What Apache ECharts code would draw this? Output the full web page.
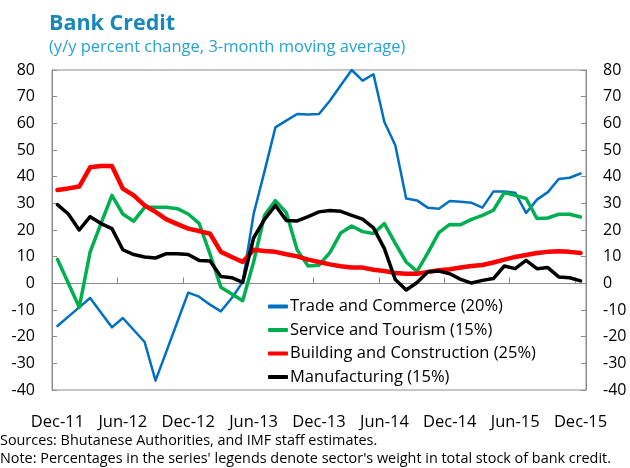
<!DOCTYPE html>
<html>
<head>
<meta charset="utf-8">
<script src="https://cdn.jsdelivr.net/npm/echarts@6/dist/echarts.min.js"></script>
<style>
  html, body { margin: 0; padding: 0; background: #fff; }
  #main { width: 630px; height: 468px; }
</style>
</head>
<body>
<div id="main"></div>
<script>
var months = [
    'Dec-11', 'Jan-12', 'Feb-12', 'Mar-12', 'Apr-12', 'May-12', 'Jun-12', 'Jul-12', 'Aug-12', 'Sep-12', 'Oct-12', 'Nov-12',
    'Dec-12', 'Jan-13', 'Feb-13', 'Mar-13', 'Apr-13', 'May-13', 'Jun-13', 'Jul-13', 'Aug-13', 'Sep-13', 'Oct-13', 'Nov-13',
    'Dec-13', 'Jan-14', 'Feb-14', 'Mar-14', 'Apr-14', 'May-14', 'Jun-14', 'Jul-14', 'Aug-14', 'Sep-14', 'Oct-14', 'Nov-14',
    'Dec-14', 'Jan-15', 'Feb-15', 'Mar-15', 'Apr-15', 'May-15', 'Jun-15', 'Jul-15', 'Aug-15', 'Sep-15', 'Oct-15', 'Nov-15',
    'Dec-15'
];

var trade = [
    -16, -12.5, -9, -5.5, -11, -16.5, -13, -17.5, -22, -36.5, -25.5, -14.5,
    -3.5, -5, -8, -10.5, -5.5, 0.5, 26, 42, 58.5, 61, 63.5, 63.3,
    63.5, 68.5, 74.3, 80, 76, 78.4, 60.5, 51.8, 31.8, 31.1, 28.3, 28,
    30.9, 30.6, 30.2, 28.4, 34.4, 34.4, 34, 26.4, 31.4, 34.2, 39.1, 39.6,
    41.2
];
var service = [
    9, 0, -9, 11.8, 22.5, 33, 26, 23.3, 28.5, 28.5, 28.5, 28,
    26, 22.5, 11, -1.5, -4, -6.5, 8, 25.5, 31, 26.5, 12.5, 6.5,
    6.8, 11.5, 18.9, 21.5, 19.4, 18.7, 22.4, 15, 8, 4.5, 11.5, 19,
    22.1, 22, 24, 25.5, 27.4, 34, 33, 31.8, 24.3, 24.5, 25.9, 25.9,
    24.9
];
var building = [
    35, 35.6, 36.3, 43.5, 44, 44, 35.5, 33, 29.2, 26.8, 24, 22.2,
    20.5, 19.6, 18.6, 11.8, 9.9, 8, 12.6, 12.1, 11.8, 10.9, 10.1, 8.9,
    8, 7.1, 6.4, 5.9, 5.9, 5.1, 4.6, 3.9, 3.6, 3.6, 4.3, 4.9,
    5.3, 5.9, 6.5, 6.9, 7.8, 8.9, 9.9, 10.6, 11.4, 11.8, 12, 11.8,
    11.4
];
var manufacturing = [
    29.5, 26, 20, 25, 22.4, 20.5, 12.6, 10.8, 9.9, 9.5, 11.1, 11.1,
    10.8, 8.6, 8.4, 2.6, 2.1, 0.4, 17, 24, 29.2, 23.6, 23.4, 25,
    26.8, 27.3, 27, 25.5, 24.1, 20.8, 13, 1.4, -2.5, 0.3, 4.3, 4.6,
    3.6, 1.5, 0.1, 1.1, 1.8, 6.5, 5.5, 8.6, 5.5, 5.9, 2.4, 2.1,
    0.9
];

var seriesNames = [
    'Trade and Commerce (20%)',
    'Service and Tourism (15%)',
    'Building and Construction (25%)',
    'Manufacturing (15%)'
];
var seriesColors = ['#0070C0', '#00B050', '#FF0000', '#000000'];
var seriesWidths = [2.5, 3.5, 4.5, 3.5];
var seriesData = [trade, service, building, manufacturing];

var fontName = '"Open Sans", "Noto Sans", sans-serif';
var axisGrey = '#8c8c8c';

var chart = echarts.init(document.getElementById('main'));

var yAxisCommon = {
    type: 'value',
    min: -40,
    max: 80,
    interval: 10,
    splitLine: { show: false },
    axisLine: { show: true, lineStyle: { color: axisGrey, width: 1 } },
    axisTick: { show: true, inside: true, length: 5, lineStyle: { color: axisGrey } },
    axisLabel: { color: '#000', fontSize: 16, fontFamily: fontName, margin: 17 }
};

var option = {
    animation: false,
    backgroundColor: '#fff',
    title: {
        text: 'Bank Credit',
        subtext: '(y/y percent change, 3-month moving average)',
        left: 44,
        top: 8,
        itemGap: 4,
        textStyle: { color: '#1788b7', fontSize: 21.5, fontWeight: 'bold', fontFamily: fontName },
        subtextStyle: { color: '#28a2d3', fontSize: 16.5, fontFamily: fontName }
    },
    grid: {
        left: 52,
        right: 44,
        top: 70,
        bottom: 78,
        show: true,
        borderColor: axisGrey,
        borderWidth: 1
    },
    legend: {
        orient: 'vertical',
        left: 268,
        top: 298,
        padding: 0,
        itemGap: 6.5,
        itemWidth: 20,
        itemHeight: 4,
        icon: 'roundRect',
        textStyle: { color: '#000', fontSize: 16.5, fontFamily: fontName, padding: [0, 0, 0, -3] },
        data: seriesNames
    },
    xAxis: [
        {
            type: 'category',
            data: months,
            boundaryGap: true,
            position: 'bottom',
            axisLine: { show: false, onZero: false },
            axisTick: { show: false },
            axisLabel: {
                interval: 5,
                color: '#000',
                fontSize: 16.5,
                fontFamily: fontName,
                margin: 24
            },
            splitLine: { show: false }
        },
        {
            type: 'category',
            data: months,
            boundaryGap: true,
            position: 'top',
            axisLine: { show: true, onZero: true, lineStyle: { color: axisGrey, width: 1 } },
            axisTick: { show: true, inside: false, interval: 5, length: 6, lineStyle: { color: axisGrey } },
            axisLabel: { show: false },
            splitLine: { show: false }
        }
    ],
    yAxis: [
        Object.assign({ position: 'left' }, yAxisCommon),
        Object.assign({ position: 'right' }, yAxisCommon)
    ],
    series: seriesNames.map(function (name, k) {
        return {
            name: name,
            type: 'line',
            data: seriesData[k],
            xAxisIndex: 0,
            yAxisIndex: 0,
            symbol: 'none',
            color: seriesColors[k],
            lineStyle: { color: seriesColors[k], width: seriesWidths[k], cap: 'round', join: 'round' }
        };
    }),
    graphic: [
        {
            type: 'text',
            left: 0,
            top: 434,
            style: { text: 'Sources: Bhutanese Authorities, and IMF staff estimates.', fill: '#000', font: '14.4px ' + fontName }
        },
        {
            type: 'text',
            left: 0,
            top: 452,
            style: { text: "Note: Percentages in the series' legends denote sector's weight in total stock of bank credit.", fill: '#000', font: '14.4px ' + fontName }
        }
    ]
};

chart.setOption(option);

window.onresize = chart.resize;
</script>
</body>
</html>
